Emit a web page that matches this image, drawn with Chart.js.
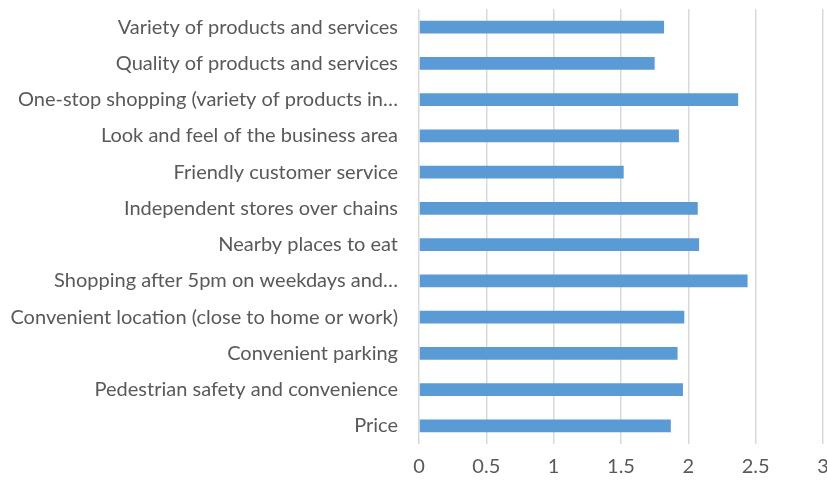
<!DOCTYPE html>
<html>
<head>
<meta charset="utf-8">
<script src="https://cdn.jsdelivr.net/npm/chart.js@4.4.0/dist/chart.umd.min.js"></script>
<style>
  html, body { margin: 0; padding: 0; background: #fff; }
  #wrap { width: 827px; height: 483px; }
</style>
</head>
<body>
<div id="wrap"><canvas id="chart"></canvas></div>
<script>
// categories, top to bottom as in the picture
const categories = [
    'Variety of products and services',
    'Quality of products and services',
    'One-stop shopping (variety of products in…',
    'Look and feel of the business area',
    'Friendly customer service',
    'Independent stores over chains',
    'Nearby places to eat',
    'Shopping after 5pm on weekdays and…',
    'Convenient location (close to home or work)',
    'Convenient parking',
    'Pedestrian safety and convenience',
    'Price'
];
const scores = [1.82, 1.75, 2.37, 1.93, 1.52, 2.07, 2.08, 2.44, 1.97, 1.92, 1.96, 1.87];
const xTicks = [0, 0.5, 1, 1.5, 2, 2.5, 3];

const labelFont = { family: 'Lato', size: 20 };
const textColor = '#595959';

const ctx = document.getElementById('chart').getContext('2d');
new Chart(ctx, {
    type: 'bar',
    data: {
        labels: categories,
        datasets: [{
            data: scores,
            backgroundColor: '#5b9bd5',
            borderWidth: 0,
            categoryPercentage: 1,
            barPercentage: 0.35
        }]
    },
    options: {
        indexAxis: 'y',
        responsive: true,
        maintainAspectRatio: false,
        animation: false,
        layout: { padding: { top: 9, left: 0, right: 0, bottom: 0 } },
        plugins: {
            legend: { display: false },
            tooltip: { enabled: false }
        },
        scales: {
            x: {
                min: 0,
                max: 3,
                afterBuildTicks: function(scale) {
                    scale.ticks = xTicks.map(v => ({ value: v }));
                },
                afterFit: function(scale) {
                    scale.height = 39;
                    scale.paddingRight = 4;
                    scale.paddingLeft = 0;
                },
                grid: { color: '#d9d9d9', lineWidth: 1.5, drawTicks: false },
                border: { display: false },
                ticks: {
                    color: textColor, font: labelFont, padding: 11, maxRotation: 0,
                    callback: function(value) { return String(value); }
                }
            },
            y: {
                afterFit: function(scale) {
                    scale.width = 419;
                    scale.paddingTop = 0;
                    scale.paddingBottom = 0;
                },
                grid: { display: false, drawTicks: false },
                border: { display: false },
                ticks: { color: textColor, font: labelFont, padding: 21, autoSkip: false }
            }
        }
    }
});
</script>
</body>
</html>
